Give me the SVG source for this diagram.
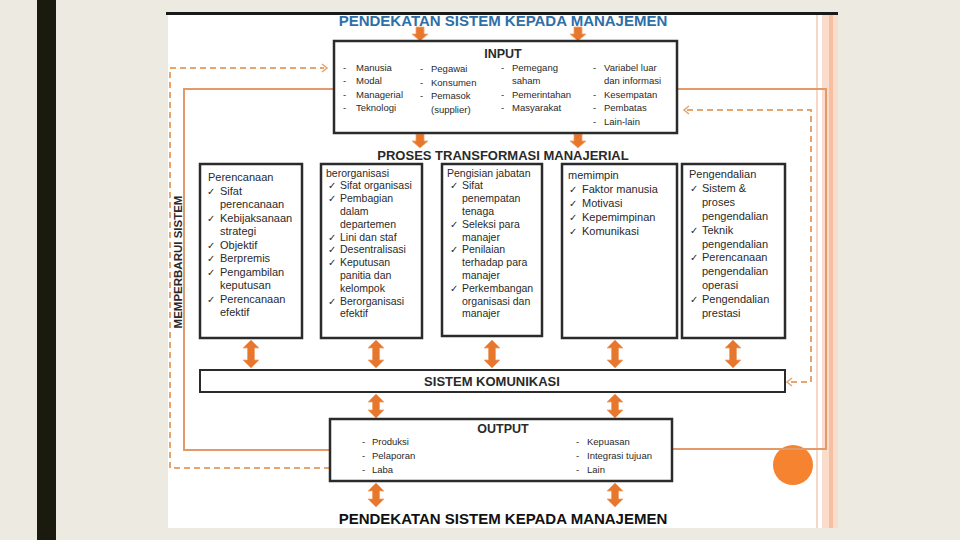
<svg xmlns="http://www.w3.org/2000/svg" width="960" height="540" viewBox="0 0 960 540">
<style>
.t{font-family:"Liberation Sans",Arial,sans-serif;fill:#2a2a2a}
.s9{font-size:9.5px}
.s10{font-size:10.5px}
.s11{font-size:11px}
.b{font-weight:bold}
.ck{font-family:"DejaVu Sans",sans-serif;font-size:10px;fill:#2a2a2a}
.box{fill:#fff;stroke:#2b2b2b;stroke-width:2.5}
.arr{fill:#E8772E;stroke:#F0A36E;stroke-width:0.8}
.loop{fill:none;stroke:#E39A6A;stroke-width:2}
.dash{fill:none;stroke:#E6A46E;stroke-width:2;stroke-dasharray:6 4}
.chev{fill:none;stroke:#E6A46E;stroke-width:1.6}
</style>
<defs>
<path id="da28" d="M0,0 L8,8 L3.5,8 L3.5,20 L8,20 L0,28 L-8,20 L-3.5,20 L-3.5,8 L-8,8 Z"/>
<path id="da24" d="M0,0 L8,8 L3.5,8 L3.5,16 L8,16 L0,24 L-8,16 L-3.5,16 L-3.5,8 L-8,8 Z"/>
<path id="dn" d="M-4,0 L4,0 L4,7 L8,7 L0,14 L-8,7 L-4,7 Z"/>
</defs>
<!-- background -->
<rect x="0" y="0" width="960" height="540" fill="#EDEAE2"/>
<rect x="37" y="0" width="19" height="540" fill="#1B1A0E"/>
<rect x="168" y="12" width="670" height="516" fill="#FFFFFF"/>
<rect x="166" y="12" width="672" height="3" fill="#1A1A1A"/>
<!-- right decorative bands -->
<rect x="816" y="15" width="2" height="513" fill="#F6D6C4"/>
<rect x="822" y="15" width="16" height="513" fill="#F9DCCB"/>
<rect x="829" y="15" width="4" height="513" fill="#F5BFA0"/>
<circle cx="793" cy="465" r="20" fill="#F5832F"/>

<g id="connectors">
  <!-- solid feedback loop -->
  <polyline class="loop" points="334,89 184,89 184,450 330,450"/>
  <polyline class="loop" points="677,89 826,89 826,449 672,449"/>
  <!-- dashed left -->
  <polyline class="dash" points="330,468 170,468 170,68 324,68"/>
  <polyline class="chev" points="322,64 327,68 322,72"/>
  <!-- dashed right -->
  <polyline class="dash" points="687,110 811,110 811,382 790,382"/>
  <polyline class="chev" points="689,106 684,110 689,114"/>
  <polyline class="chev" points="792,378 787,382 792,386"/>
  <!-- single arrows -->
  <use href="#dn" class="arr" x="420" y="27"/>
  <use href="#dn" class="arr" x="578" y="27"/>
  <use href="#dn" class="arr" x="420" y="134"/>
  <use href="#dn" class="arr" x="578" y="134"/>
  <!-- double arrows boxes to komunikasi -->
  <use href="#da28" class="arr" x="251" y="340"/>
  <use href="#da28" class="arr" x="376" y="340"/>
  <use href="#da28" class="arr" x="492" y="340"/>
  <use href="#da28" class="arr" x="615" y="340"/>
  <use href="#da28" class="arr" x="733" y="340"/>
  <!-- komunikasi to output -->
  <use href="#da24" class="arr" x="376" y="394"/>
  <use href="#da24" class="arr" x="615" y="394"/>
  <!-- output to bottom title -->
  <use href="#da24" class="arr" x="376" y="483"/>
  <use href="#da24" class="arr" x="615" y="483"/>
</g>

<g id="title-top">
  <text x="503" y="26" text-anchor="middle" class="t b" style="font-size:15px;fill:#2F6FA8">PENDEKATAN SISTEM KEPADA MANAJEMEN</text>
</g>

<g id="input">
  <rect class="box" x="334" y="41" width="343" height="92"/>
  <text x="503" y="58" text-anchor="middle" class="t b" style="font-size:12.5px">INPUT</text>
  <g class="t s9">
    <text x="343" y="71">-</text><text x="356" y="71">Manusia</text>
    <text x="343" y="84">-</text><text x="356" y="84">Modal</text>
    <text x="343" y="97.5">-</text><text x="356" y="97.5">Managerial</text>
    <text x="343" y="111">-</text><text x="356" y="111">Teknologi</text>
    <text x="420" y="72">-</text><text x="431" y="72">Pegawai</text>
    <text x="420" y="85.5">-</text><text x="431" y="85.5">Konsumen</text>
    <text x="420" y="99">-</text><text x="431" y="99">Pemasok</text>
    <text x="431" y="113">(supplier)</text>
    <text x="501" y="71">-</text><text x="512" y="71">Pemegang</text>
    <text x="512" y="84">saham</text>
    <text x="501" y="97.5">-</text><text x="512" y="97.5">Pemerintahan</text>
    <text x="501" y="111">-</text><text x="512" y="111">Masyarakat</text>
    <text x="593" y="71">-</text><text x="604" y="71">Variabel luar</text>
    <text x="604" y="84">dan informasi</text>
    <text x="593" y="97.5">-</text><text x="604" y="97.5">Kesempatan</text>
    <text x="593" y="111">-</text><text x="604" y="111">Pembatas</text>
    <text x="593" y="125">-</text><text x="604" y="125">Lain-lain</text>
  </g>
</g>

<g id="proses-label">
  <text x="503" y="160" text-anchor="middle" class="t b" style="font-size:13px">PROSES TRANSFORMASI MANAJERIAL</text>
</g>

<g id="side-label">
  <text transform="translate(182,262) rotate(-90)" text-anchor="middle" class="t b" style="font-size:11.5px">MEMPERBARUI SISTEM</text>
</g>

<g id="box-perencanaan">
  <rect class="box" x="200" y="164" width="102" height="174"/>
  <g class="t s11">
    <text x="208" y="181">Perencanaan</text>
    <text x="220" y="194.5">Sifat</text>
    <text x="220" y="208">perencanaan</text>
    <text x="220" y="221.5">Kebijaksanaan</text>
    <text x="220" y="235">strategi</text>
    <text x="220" y="248.5">Objektif</text>
    <text x="220" y="262">Berpremis</text>
    <text x="220" y="275.5">Pengambilan</text>
    <text x="220" y="289">keputusan</text>
    <text x="220" y="302.5">Perencanaan</text>
    <text x="220" y="316">efektif</text>
  </g>
  <g class="ck">
    <text x="207" y="194.5">✓</text><text x="207" y="221.5">✓</text><text x="207" y="248.5">✓</text>
    <text x="207" y="262">✓</text><text x="207" y="275.5">✓</text><text x="207" y="302.5">✓</text>
  </g>
</g>

<g id="box-berorganisasi">
  <rect class="box" x="321" y="164" width="101" height="174"/>
  <g class="t s10">
    <text x="326" y="176.5">berorganisasi</text>
    <text x="340" y="189.3">Sifat organisasi</text>
    <text x="340" y="202.1">Pembagian</text>
    <text x="340" y="214.9">dalam</text>
    <text x="340" y="227.7">departemen</text>
    <text x="340" y="240.5">Lini dan staf</text>
    <text x="340" y="253.3">Desentralisasi</text>
    <text x="340" y="266.1">Keputusan</text>
    <text x="340" y="278.9">panitia dan</text>
    <text x="340" y="291.7">kelompok</text>
    <text x="340" y="304.5">Berorganisasi</text>
    <text x="340" y="317.3">efektif</text>
  </g>
  <g class="ck">
    <text x="328" y="189.3">✓</text><text x="328" y="202.1">✓</text><text x="328" y="240.5">✓</text>
    <text x="328" y="253.3">✓</text><text x="328" y="266.1">✓</text><text x="328" y="304.5">✓</text>
  </g>
</g>

<g id="box-pengisian">
  <rect class="box" x="442" y="164" width="100" height="172"/>
  <g class="t s10">
    <text x="447" y="176.5">Pengisian jabatan</text>
    <text x="462" y="189.3">Sifat</text>
    <text x="462" y="202.1">penempatan</text>
    <text x="462" y="214.9">tenaga</text>
    <text x="462" y="227.7">Seleksi para</text>
    <text x="462" y="240.5">manajer</text>
    <text x="462" y="253.3">Penilaian</text>
    <text x="462" y="266.1">terhadap para</text>
    <text x="462" y="278.9">manajer</text>
    <text x="462" y="291.7">Perkembangan</text>
    <text x="462" y="304.5">organisasi dan</text>
    <text x="462" y="317.3">manajer</text>
  </g>
  <g class="ck">
    <text x="450" y="189.3">✓</text><text x="450" y="227.7">✓</text><text x="450" y="253.3">✓</text>
    <text x="450" y="291.7">✓</text>
  </g>
</g>

<g id="box-memimpin">
  <rect class="box" x="562" y="164" width="115" height="174"/>
  <g class="t s11">
    <text x="568" y="179">memimpin</text>
    <text x="582" y="192.9">Faktor manusia</text>
    <text x="582" y="206.8">Motivasi</text>
    <text x="582" y="220.7">Kepemimpinan</text>
    <text x="582" y="234.6">Komunikasi</text>
  </g>
  <g class="ck">
    <text x="569" y="192.9">✓</text><text x="569" y="206.8">✓</text><text x="569" y="220.7">✓</text>
    <text x="569" y="234.6">✓</text>
  </g>
</g>

<g id="box-pengendalian">
  <rect class="box" x="682" y="164" width="103" height="174"/>
  <g class="t s11">
    <text x="689" y="178">Pengendalian</text>
    <text x="702" y="191.9">Sistem &amp;</text>
    <text x="702" y="205.8">proses</text>
    <text x="702" y="219.7">pengendalian</text>
    <text x="702" y="233.6">Teknik</text>
    <text x="702" y="247.5">pengendalian</text>
    <text x="702" y="261.4">Perencanaan</text>
    <text x="702" y="275.3">pengendalian</text>
    <text x="702" y="289.2">operasi</text>
    <text x="702" y="303.1">Pengendalian</text>
    <text x="702" y="317">prestasi</text>
  </g>
  <g class="ck">
    <text x="690" y="191.9">✓</text><text x="690" y="233.6">✓</text><text x="690" y="261.4">✓</text>
    <text x="690" y="303.1">✓</text>
  </g>
</g>

<g id="komunikasi">
  <rect x="200" y="370" width="585" height="22" fill="#fff" stroke="#2b2b2b" stroke-width="2"/>
  <text x="492" y="386" text-anchor="middle" class="t b" style="font-size:13px">SISTEM KOMUNIKASI</text>
</g>

<g id="output">
  <rect class="box" x="330" y="419" width="342" height="62"/>
  <text x="503" y="433" text-anchor="middle" class="t b" style="font-size:12.5px">OUTPUT</text>
  <g class="t s9">
    <text x="362" y="445">-</text><text x="372" y="445">Produksi</text>
    <text x="362" y="459">-</text><text x="372" y="459">Pelaporan</text>
    <text x="362" y="473">-</text><text x="372" y="473">Laba</text>
    <text x="576" y="445">-</text><text x="587" y="445">Kepuasan</text>
    <text x="576" y="459">-</text><text x="587" y="459">Integrasi tujuan</text>
    <text x="576" y="473">-</text><text x="587" y="473">Lain</text>
  </g>
</g>

<g id="title-bottom">
  <text x="503" y="524" text-anchor="middle" class="t b" style="font-size:15px;fill:#111">PENDEKATAN SISTEM KEPADA MANAJEMEN</text>
</g>
</svg>
